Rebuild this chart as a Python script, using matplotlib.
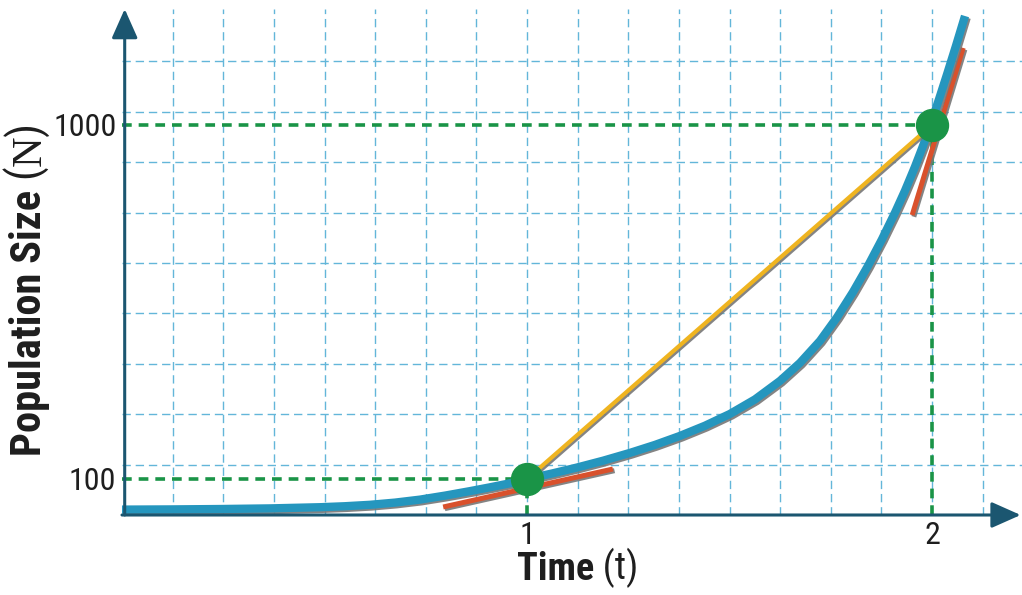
import matplotlib
matplotlib.use("Agg")
import matplotlib.pyplot as plt
import matplotlib.patheffects as pe
from matplotlib import font_manager

# DATA
curve_t = [0.0, 0.1185, 0.242, 0.3654, 0.4889, 0.5506, 0.6123, 0.6741, 0.7358, 0.7975,
           0.8593, 0.9086, 0.958, 1.0, 1.0617, 1.1235, 1.1877, 1.2543, 1.316, 1.3778,
           1.4395, 1.5012, 1.563, 1.6247, 1.6741, 1.7235, 1.7654, 1.8049, 1.842, 1.8765,
           1.9086, 1.9333, 1.958, 1.9778, 1.9951, 2.0173, 2.037, 2.0593, 2.0815]
curve_N = [22.2, 22.7, 23.7, 25.3, 28.3, 30.8, 34.4, 40.0, 47.6, 57.8,
           69.2, 78.9, 89.1, 100, 114.0, 129.2, 146.5, 166.4, 186.7, 209.6,
           235.5, 265.5, 302.4, 349.4, 395.2, 451.1, 510.9, 575.2, 641.8, 709.4,
           777.0, 833.0, 894.0, 946.9, 996.7, 1065.4, 1128.4, 1201.6, 1277.1]

tan1_t = [0.793, 1.212]
tan1_N = [28.8, 125.4]
tan2_t = [1.951, 2.077]
tan2_N = [771, 1196]

pts_t = [1, 2]
pts_N = [100, 1000]

xtick_vals = [1, 2]
xtick_labels = ["1", "2"]
ytick_vals = [100, 1000]
ytick_labels = ["100", "1000"]

# fonts: prefer a narrow sans like the original, else Liberation Sans
flist = font_manager.fontManager.ttflist
names = {f.name for f in flist}
narrow = None
for nm in ["Liberation Sans Narrow", "DejaVu Sans Condensed", "Roboto Condensed",
           "Open Sans Condensed", "Noto Sans Condensed"]:
    if nm in names:
        narrow = nm
        break
if narrow is None:
    for f in flist:
        if "Narrow" in f.name or "Condensed" in f.name:
            narrow = f.name
            break
if narrow is not None:
    sans = narrow
    tick_fs, xlab_fs, ylab_fs = 23, 27.5, 30.5
else:
    sans = "Liberation Sans"
    tick_fs, xlab_fs, ylab_fs = 20, 22.5, 24
serif = "Liberation Serif"
plt.rcParams["lines.scale_dashes"] = False

# colours
axis_c = "#1b5670"
grid_c = "#63b6d9"
blue = "#2596be"
red = "#d9512c"
yellow = "#efb420"
green = "#1a9447"
txt_c = "#1e1e1e"

W, H = 1022, 595
fig = plt.figure(figsize=(W / 100, H / 100), dpi=100)
fig.patch.set_facecolor("white")

# axes box in pixels: t=0 at x=122, 405 px per unit; N=100 at y=479, N=1000 at y=125
x0, x1 = 122, 1022
yb, yt = 515, 9
px_t = 405.0
px_N = 354.0 / 900.0
ax = fig.add_axes([x0 / W, (H - yb) / H, (x1 - x0) / W, (yb - yt) / H])
xmax = (x1 - x0) / px_t
ymin = 100 - (yb - 479) / px_N
ymax = 1000 + (125 - yt) / px_N
ax.set_xlim(0, xmax)
ax.set_ylim(ymin, ymax)

# grid
gx = [0.125 * k for k in range(1, 18)]
gstep = 50.4 / px_N
gy = [ymin + gstep * k for k in range(1, 10)]
ax.set_xticks(gx, minor=True)
ax.set_yticks(gy, minor=True)
ax.xaxis.remove_overlapping_locs = False
ax.yaxis.remove_overlapping_locs = False
ax.grid(which="minor", color=grid_c, lw=1.0, dashes=(6, 3.5))
ax.grid(which="major", visible=False)
ax.tick_params(which="minor", length=0)

for s in ax.spines.values():
    s.set_visible(False)

ax.set_xticks(xtick_vals, xtick_labels)
ax.set_yticks(ytick_vals, ytick_labels)
ax.tick_params(which="major", length=0, labelsize=tick_fs, labelcolor=txt_c)
ax.tick_params(axis="x", pad=4)
ax.tick_params(axis="y", pad=4)
for lab in ax.get_xticklabels() + ax.get_yticklabels():
    lab.set_fontfamily(sans)

# green guide lines
gd = dict(color=green, lw=2.6, dashes=(7, 5), zorder=3)
for t, n in zip(pts_t, pts_N):
    ax.plot([0, t], [n, n], **gd)
    ax.plot([t, t], [ymin, n], **gd)

shadow = [pe.SimpleLineShadow(offset=(1.2, -1.2), shadow_color="#777777", alpha=0.9), pe.Normal()]

# curve
ax.plot(curve_t, curve_N, color=blue, lw=6, solid_capstyle="butt", solid_joinstyle="round",
        zorder=4, path_effects=shadow, clip_on=False)
# tangents
ax.plot(tan1_t, tan1_N, color=red, lw=3.6, solid_capstyle="butt", zorder=5, path_effects=shadow)
ax.plot(tan2_t, tan2_N, color=red, lw=3.6, solid_capstyle="butt", zorder=3.5, path_effects=shadow)
# secant
ax.plot(pts_t, pts_N, color=yellow, lw=3, zorder=4.5, path_effects=shadow)
# points
ax.plot(pts_t, pts_N, "o", color=green, ms=23, zorder=6)

# axis arrows
arr = dict(arrowstyle="-|>,head_length=0.9,head_width=0.4", color=axis_c, lw=2.2,
           mutation_scale=20, shrinkA=0, shrinkB=0)
ax.annotate("", xy=(0.003, 1.0), xytext=(0.003, 0.0), xycoords="axes fraction",
            arrowprops=arr, annotation_clip=False, zorder=7)
ax.annotate("", xy=(0.9985, 0.0), xytext=(0.0, 0.0), xycoords="axes fraction",
            arrowprops=arr, annotation_clip=False, zorder=7)

# axis labels
xl = fig.text(517 / W, (H - 580) / H, "Time", fontsize=xlab_fs, fontweight="bold",
              family=sans, ha="left", va="baseline", color=txt_c)
ax.annotate(" (t)", xy=(1, 0), xycoords=xl, ha="left", va="bottom",
            fontsize=xlab_fs, family=sans, color=txt_c)

yl = fig.text(9 / W, (H - 456) / H, "Population Size", fontsize=ylab_fs, fontweight="bold",
              family=sans, rotation=90, ha="left", va="bottom", color=txt_c)
p1 = ax.annotate(" (", xy=(1, 1), xycoords=yl, ha="right", va="bottom", rotation=90,
                 fontsize=ylab_fs + 1, family=sans, color=txt_c)
p2 = ax.annotate("N", xy=(1, 1), xycoords=p1, ha="right", va="bottom", rotation=90,
                 fontsize=ylab_fs, family=serif, color=txt_c)
ax.annotate(")", xy=(1, 1), xycoords=p2, ha="right", va="bottom", rotation=90,
            fontsize=ylab_fs + 1, family=sans, color=txt_c)

fig.savefig("out.png", dpi=100)
